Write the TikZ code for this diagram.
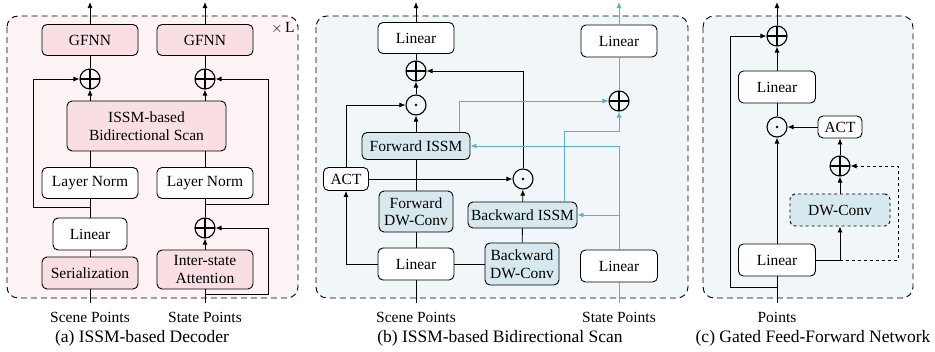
\documentclass[tikz,border=0pt]{standalone}
\usepackage{fontspec}
\setmainfont{Liberation Serif}
\usetikzlibrary{arrows.meta,calc}
\definecolor{pk_bg}{RGB}{253, 243, 244}
\definecolor{pk_fill}{RGB}{249, 222, 227}
\definecolor{bl_bg}{RGB}{241, 246, 249}
\definecolor{bl_fill}{RGB}{215, 233, 239}
\definecolor{bl_line}{RGB}{91, 175, 208}
\tikzstyle{blk}=[rectangle,rounded corners=5pt,fill=white,draw=black,
  line width=0.9pt,inner sep=2pt,align=center,
  font=\fontsize{15.5}{17.5}\selectfont]
\tikzstyle{pblk}=[blk,fill=pk_fill]
\tikzstyle{bblk}=[blk,fill=bl_fill]
\tikzstyle{addn}=[circle,draw=black,line width=1.1pt,minimum size=20pt,inner sep=0pt,
  path picture={\draw[line width=1.1pt] (path picture bounding box.north) -- (path picture bounding box.south)
  (path picture bounding box.west) -- (path picture bounding box.east);}]
\tikzstyle{muln}=[circle,draw=black,line width=1.1pt,minimum size=20pt,inner sep=0pt,
  path picture={\fill (path picture bounding box.center) circle (1.4pt);}]
\tikzstyle{frame}=[rounded corners=11pt,draw=black,line width=0.9pt,dash pattern=on 6pt off 4pt]
\tikzstyle{lbl}=[font=\fontsize{15.5}{17.5}\selectfont]
\tikzstyle{capt}=[font=\fontsize{17.5}{20}\selectfont]

\begin{document}
\begin{tikzpicture}[x=1pt,y=-1pt,line width=0.9pt,>={Latex[length=6pt,width=5pt]}]
        \useasboundingbox (0,0) rectangle (935,351);
        % (a) decoder
        \draw[frame,fill=pk_bg] (7,16) rectangle (298,298);
        \node[lbl] (0) at (283,28) {$\times$\,L};
        \node[style=pblk,minimum width=96pt,minimum height=31pt] (1) at (90,40) {GFNN};
        \node[style=pblk,minimum width=96pt,minimum height=31pt] (2) at (205,40) {GFNN};
        \node[style=addn] (3) at (90,79) {};
        \node[style=addn] (4) at (205,79) {};
        \node[style=pblk,minimum width=159pt,minimum height=50pt] (5) at (146.5,126) {ISSM-based\\Bidirectional Scan};
        \node[style=blk,minimum width=96pt,minimum height=31pt] (6) at (90,183) {Layer Norm};
        \node[style=blk,minimum width=96pt,minimum height=31pt] (7) at (205,183) {Layer Norm};
        \node[style=blk,minimum width=74pt,minimum height=32pt] (8) at (90,234) {Linear};
        \node[style=addn] (9) at (205,228) {};
        \node[style=pblk,minimum width=96pt,minimum height=32pt] (10) at (90,273) {Serialization};
        \node[style=pblk,minimum width=96pt,minimum height=39pt] (11) at (205,269.5) {Inter-state\\Attention};
        \coordinate (12) at (90,303);
        \coordinate (13) at (205,303);
        \coordinate (14) at (90,207);
        \coordinate (15) at (205,204);
        \coordinate (16) at (205,294);
        \coordinate (17) at (90,2);
        \coordinate (18) at (205,2);
        \node[lbl] (19) at (90,317) {Scene Points};
        \node[lbl] (20) at (205,317) {State Points};
        \node[capt] at (142,338) {(a) ISSM-based Decoder};
        \draw (12) to (10);
        \draw (10) to (8);
        \draw (8) to (6);
        \draw (6.north) to (6.north |- 5.south);
        \draw (7.north) to (7.north |- 5.south);
        \draw[->] (5.north -| 3) to (3);
        \draw[->] (5.north -| 4) to (4);
        \draw (3) to (1);
        \draw (4) to (2);
        \draw[->] (1) to (17);
        \draw[->] (2) to (18);
        \draw[->] (14) -- (33,207) |- (3);
        \draw[->] (15) -- (268,204) |- (4);
        \draw (13) to (11);
        \draw[->] (11) to (9);
        \draw (9) to (7);
        \draw[->] (16) -- (268,294) |- (9);

        % (b) bidirectional scan
        \draw[frame,fill=bl_bg] (316,16) rectangle (688,298);
        \node[style=blk,minimum width=76pt,minimum height=31pt] (21) at (416,38) {Linear};
        \node[style=addn] (22) at (416,71) {};
        \node[style=muln] (23) at (416,105) {};
        \node[style=bblk,minimum width=108pt,minimum height=27pt] (24) at (416,146) {Forward ISSM};
        \node[style=blk,minimum width=45pt,minimum height=23pt] (25) at (346,179) {ACT};
        \node[style=bblk,minimum width=74pt,minimum height=41pt] (26) at (416,211.5) {Forward\\DW-Conv};
        \node[style=blk,minimum width=76pt,minimum height=32pt] (27) at (416,264) {Linear};
        \node[style=muln] (28) at (523,179) {};
        \node[style=bblk,minimum width=109pt,minimum height=26pt] (29) at (522.5,215) {Backward ISSM};
        \node[style=bblk,minimum width=74pt,minimum height=42pt] (30) at (522,264) {Backward\\DW-Conv};
        \node[style=blk,minimum width=76pt,minimum height=32pt] (31) at (619,41) {Linear};
        \node[style=addn] (32) at (619,101) {};
        \node[style=blk,minimum width=77pt,minimum height=32pt] (33) at (619,266) {Linear};
        \coordinate (34) at (416,303);
        \coordinate (35) at (619,303);
        \coordinate (36) at (416,2);
        \coordinate (37) at (619,2);
        \node[lbl] (38) at (416,317) {Scene Points};
        \node[lbl] (39) at (619,317) {State Points};
        \node[capt] at (500,338) {(b) ISSM-based Bidirectional Scan};
        \draw (34) to (27);
        \draw (27) to (26);
        \draw (26) to (24);
        \draw[->] (24) to (23);
        \draw[->] (23) to (22);
        \draw (22) to (21);
        \draw[->] (21) to (36);
        \draw[->] (27.west) -| (25.south);
        \draw[->] (25.north) |- (23);
        \draw[->] (25) to (28);
        \draw (27) to (30);
        \draw (30) to (29);
        \draw[->] (29) to (28);
        \draw[->] (28) |- (22);
        \begin{scope}[draw=bl_line,>={Latex[length=6pt,width=5pt,color=bl_line]}]
        \draw[bl_line] (35) to (33);
        \draw[bl_line,->] (33.north) |- (24.east);
        \draw[bl_line,->] (33.north) |- (29.east);
        \draw[bl_line,->] ([xshift=43pt]24.north) |- (32);
        \draw[bl_line,->] ([xshift=41.5pt]29.north) |- (619,131) -- (32);
        \draw[bl_line] (32) to (31);
        \draw[bl_line,->] (31) to (37);
        \end{scope}

        % (c) gated ffn
        \draw[frame,fill=bl_bg] (703,16) rectangle (913,298);
        \node[style=addn] (51) at (777,36) {};
        \node[style=blk,minimum width=77pt,minimum height=32pt] (52) at (777,87) {Linear};
        \node[style=muln] (53) at (777,127) {};
        \node[style=blk,minimum width=44pt,minimum height=22pt] (54) at (840,127) {ACT};
        \node[style=addn] (55) at (840,166) {};
        \node[style=bblk,dashed,minimum width=100pt,minimum height=32pt] (56) at (840,210) {DW-Conv};
        \node[style=blk,minimum width=77pt,minimum height=32pt] (57) at (777,260) {Linear};
        \coordinate (58) at (777,303);
        \coordinate (59) at (777,287);
        \coordinate (60) at (840,260);
        \coordinate (61) at (777,2);
        \node[lbl] (62) at (777,317) {Points};
        \node[capt] at (813,338) {(c) Gated Feed-Forward Network};
        \draw (58) to (57);
        \draw[->] (57) to (53);
        \draw (53) to (52);
        \draw[->] (52) to (51);
        \draw[->] (51) to (61);
        \draw[->] (59) -- (730,287) |- (51);
        \draw[->] (57.east) -| (56.south);
        \draw[dashed,->] (60) -- (898,260) |- (55);
        \draw[->] (56) to (55);
        \draw[->] (55) to (54);
        \draw[->] (54) to (53);
    \end{tikzpicture}
\end{document}
